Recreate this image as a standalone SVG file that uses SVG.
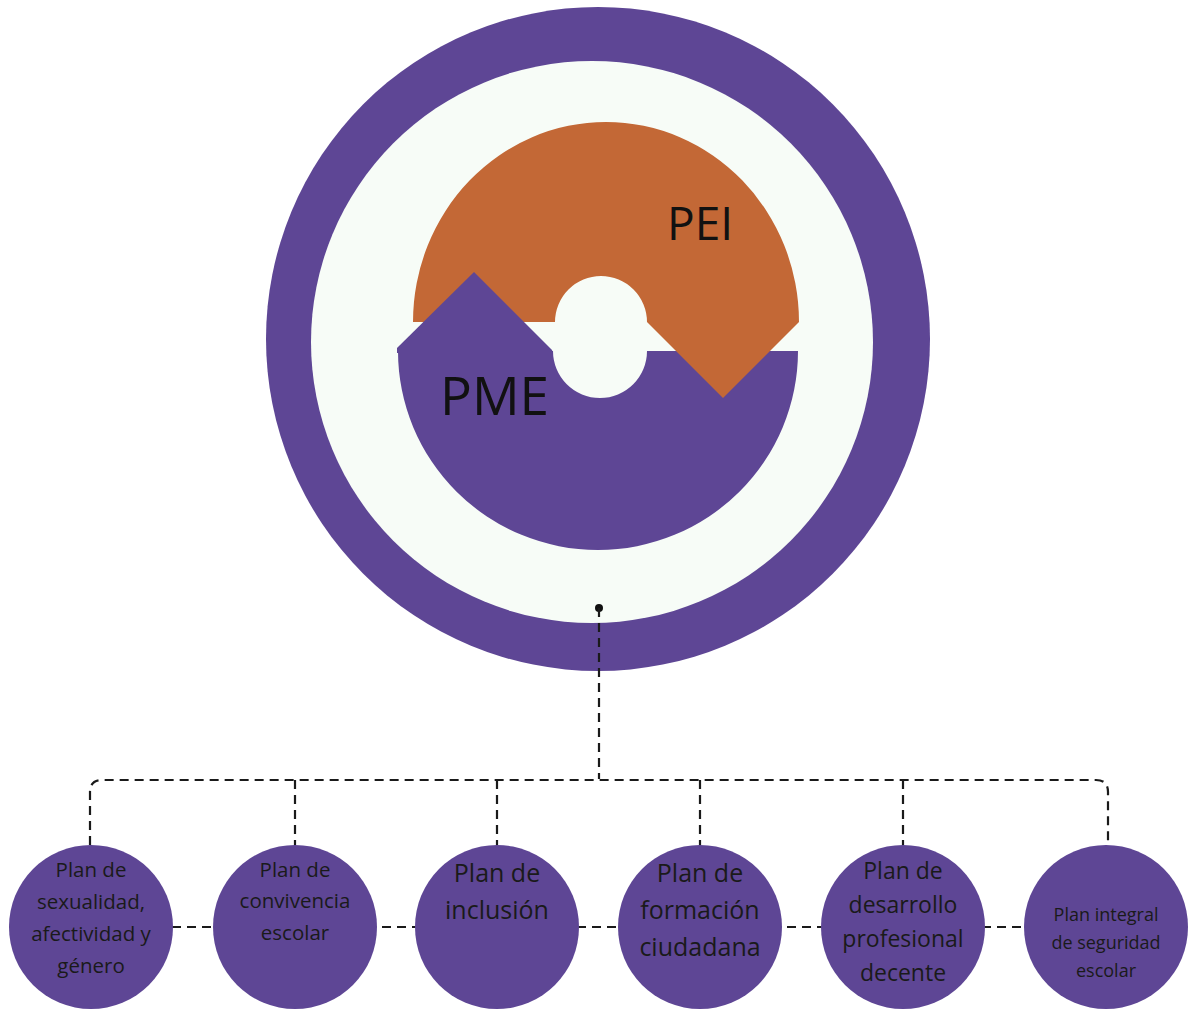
<svg xmlns="http://www.w3.org/2000/svg" width="1198" height="1010" viewBox="0 0 1198 1010">
  <style>
    .purple { fill: #5e4695; }
    .orange { fill: #c36836; }
    .pale { fill: #f7fcf7; }
    .big { font-family: "Open Sans", "Liberation Sans", sans-serif; fill: #111; }
    .lbl { font-family: "Open Sans", "Liberation Sans", sans-serif; fill: #1a1a1a; text-anchor: middle; }
    .dash { fill: none; stroke: #1a1a1a; stroke-width: 2.2; stroke-dasharray: 9 6; }
  </style>
  <rect width="1198" height="1010" fill="#ffffff"/>

  <!-- central ring with PEI / PME -->
  <g id="hub">
    <circle class="purple" cx="598" cy="339" r="332"/>
    <circle class="pale" cx="592" cy="342" r="281"/>
    <!-- PEI upper half ring -->
    <path class="orange" d="M413,322 A193,200 0 0 1 799,322 L647,322 A46,46 0 0 0 555,322 Z"/>
    <!-- PME lower half ring -->
    <path class="purple" d="M398,351 A200,199 0 0 0 798,351 L647,351 A47,47 0 0 1 553,351 Z"/>
    <!-- interlocking tabs -->
    <path class="purple" d="M397,348 L474,272 L552,350 L553,353 L397,353 Z"/>
    <path class="orange" d="M647,322 L799,322 L723,398 Z"/>
  </g>
  <g id="pei">
    <text class="big" x="667" y="240" font-size="46">PEI</text>
  </g>
  <g id="pme">
    <text class="big" x="440" y="415" font-size="53">PME</text>
  </g>

  <!-- connectors -->
  <g id="connectors">
    <circle cx="599" cy="608" r="4" fill="#111"/>
    <path class="dash" d="M599,608 L599,779"/>
    <path class="dash" d="M90,845 L90,792 Q90,780 102,780 L1096,780 Q1108,780 1108,792 L1108,845"/>
    <path class="dash" d="M295,780 L295,845"/>
    <path class="dash" d="M497,780 L497,845"/>
    <path class="dash" d="M700,780 L700,845"/>
    <path class="dash" d="M903,780 L903,845"/>
    <path class="dash" d="M172,927 L1025,927"/>
  </g>

  <!-- plan nodes -->
  <g id="plan-sexualidad">
    <circle class="purple" cx="91" cy="927" r="82"/>
    <text class="lbl" font-size="20.5"><tspan x="91" y="877">Plan de</tspan><tspan x="91" y="909">sexualidad,</tspan><tspan x="91" y="941">afectividad y</tspan><tspan x="91" y="973">género</tspan></text>
  </g>
  <g id="plan-convivencia">
    <circle class="purple" cx="295" cy="927" r="82"/>
    <text class="lbl" font-size="20.5"><tspan x="295" y="877">Plan de</tspan><tspan x="295" y="908">convivencia</tspan><tspan x="295" y="940">escolar</tspan></text>
  </g>
  <g id="plan-inclusion">
    <circle class="purple" cx="497" cy="927" r="82"/>
    <text class="lbl" font-size="25"><tspan x="497" y="882">Plan de</tspan><tspan x="497" y="919">inclusión</tspan></text>
  </g>
  <g id="plan-formacion">
    <circle class="purple" cx="700" cy="927" r="82"/>
    <text class="lbl" font-size="25"><tspan x="700" y="882">Plan de</tspan><tspan x="700" y="919">formación</tspan><tspan x="700" y="956">ciudadana</tspan></text>
  </g>
  <g id="plan-desarrollo">
    <circle class="purple" cx="903" cy="927" r="82"/>
    <text class="lbl" font-size="23"><tspan x="903" y="879">Plan de</tspan><tspan x="903" y="913">desarrollo</tspan><tspan x="903" y="947">profesional</tspan><tspan x="903" y="981">decente</tspan></text>
  </g>
  <g id="plan-seguridad">
    <circle class="purple" cx="1106" cy="927" r="82"/>
    <text class="lbl" font-size="18"><tspan x="1106" y="921">Plan integral</tspan><tspan x="1106" y="949">de seguridad</tspan><tspan x="1106" y="977">escolar</tspan></text>
  </g>
</svg>
